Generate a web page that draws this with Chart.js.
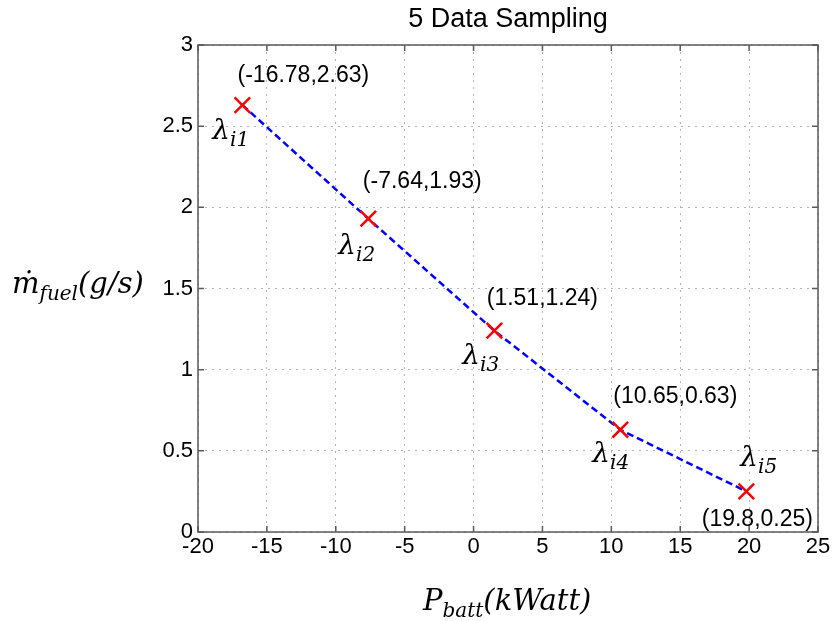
<!DOCTYPE html>
<html>
<head>
<meta charset="utf-8">
<script src="https://cdn.jsdelivr.net/npm/chart.js@4.4.1/dist/chart.umd.min.js"></script>
<style>
  html, body { margin: 0; padding: 0; background: #fff; }
  #wrap { width: 834px; height: 621px; }
</style>
</head>
<body>
<div id="wrap"><canvas id="chart" width="834" height="621"></canvas></div>
<script>
// sampled points
const pBatt = [-16.78, -7.64, 1.51, 10.65, 19.8]
const mFuel = [2.63, 1.93, 1.24, 0.63, 0.25]
const lambdaNames = ['i1', 'i2', 'i3', 'i4', 'i5']

const xTicks = [-20, -15, -10, -5, 0, 5, 10, 15, 20, 25]
const yTicks = [0, 0.5, 1, 1.5, 2, 2.5, 3]

// where the annotations sit relative to their point (px)
const coordOffsets = [[61, -29], [54, -37], [48, -32], [55, -33], [11, 28]]
const lambdaOffsets = [[-30, 34], [-30, 35], [-32, 33], [-28, 32], [-6, -25]]

const sansFont = '"Liberation Sans", Arial, sans-serif'
const mathFont = '"DejaVu Serif", serif'

// main text + subscript (+ optional tail)
function drawSub (ctx, x, y, main, sub, tail, size, subSize) {
  ctx.font = 'italic ' + size + 'px ' + mathFont
  ctx.fillText(main, x, y)
  x += ctx.measureText(main).width
  ctx.font = 'italic ' + subSize + 'px ' + mathFont
  ctx.fillText(sub, x, y + size * 0.25)
  x += ctx.measureText(sub).width
  if (tail) {
    ctx.font = 'italic ' + size + 'px ' + mathFont
    ctx.fillText(tail, x, y)
  }
}

const decorPlugin = {
  id: 'decor',
  afterDraw (chart) {
    const { ctx, chartArea: a, scales } = chart
    const xs = scales.x
    const ys = scales.y
    ctx.save()

    // box + inward ticks
    ctx.strokeStyle = '#5a5a5a'
    ctx.lineWidth = 1.5
    ctx.strokeRect(a.left, a.top, a.right - a.left, a.bottom - a.top)
    ctx.beginPath()
    xTicks.forEach(v => {
      const px = xs.getPixelForValue(v)
      ctx.moveTo(px, a.bottom); ctx.lineTo(px, a.bottom - 6)
      ctx.moveTo(px, a.top); ctx.lineTo(px, a.top + 6)
    })
    yTicks.forEach(v => {
      const py = ys.getPixelForValue(v)
      ctx.moveTo(a.left, py); ctx.lineTo(a.left + 6, py)
      ctx.moveTo(a.right, py); ctx.lineTo(a.right - 6, py)
    })
    ctx.stroke()

    ctx.fillStyle = '#000'

    // title
    ctx.font = '27px ' + sansFont
    ctx.textAlign = 'center'
    ctx.textBaseline = 'alphabetic'
    ctx.fillText('5 Data Sampling', (a.left + a.right) / 2, 27)

    // point coordinates
    ctx.font = '23px ' + sansFont
    ctx.textBaseline = 'middle'
    pBatt.forEach((x, i) => {
      const px = xs.getPixelForValue(x) + coordOffsets[i][0]
      const py = ys.getPixelForValue(mFuel[i]) + coordOffsets[i][1]
      ctx.fillText('(' + x + ',' + mFuel[i] + ')', px, py)
    })

    // lambda labels
    ctx.textAlign = 'left'
    ctx.textBaseline = 'alphabetic'
    pBatt.forEach((x, i) => {
      const px = xs.getPixelForValue(x) + lambdaOffsets[i][0]
      const py = ys.getPixelForValue(mFuel[i]) + lambdaOffsets[i][1]
      drawSub(ctx, px, py, 'λ', lambdaNames[i], '', 28, 20)
    })

    // axis labels
    drawSub(ctx, 423, 610, 'P', 'batt', '(kWatt)', 29, 20)
    drawSub(ctx, 12, 293, 'ṁ', 'fuel', '(g/s)', 29, 20)

    ctx.restore()
  }
}

new Chart(document.getElementById('chart'), {
  type: 'line',
  data: {
    datasets: [{
      data: pBatt.map((x, i) => ({ x, y: mFuel[i] })),
      borderColor: '#0000ff',
      borderWidth: 2.5,
      borderDash: [7, 4],
      fill: false,
      tension: 0,
      pointStyle: 'crossRot',
      pointRadius: 11,
      pointHoverRadius: 11,
      pointBorderColor: '#ff0000',
      pointBorderWidth: 2.5,
      clip: false
    }]
  },
  options: {
    responsive: false,
    animation: false,
    events: [],
    layout: {
      autoPadding: false,
      padding: { left: 150, right: 16, top: 45, bottom: 0 }
    },
    plugins: {
      legend: { display: false },
      title: { display: false },
      tooltip: { enabled: false }
    },
    scales: {
      x: {
        type: 'linear',
        min: -20,
        max: 25,
        afterBuildTicks: s => { s.ticks = xTicks.map(v => ({ value: v })) },
        afterFit: s => { s.height = 89 },
        grid: { color: '#b4b4b4', lineWidth: 1, drawTicks: false },
        border: { display: false, dash: [2, 5] },
        ticks: {
          padding: 2,
          color: '#000',
          maxRotation: 0,
          callback: v => String(v),
          font: { family: sansFont, size: 22 }
        }
      },
      y: {
        type: 'linear',
        min: 0,
        max: 3,
        afterBuildTicks: s => { s.ticks = yTicks.map(v => ({ value: v })) },
        afterFit: s => { s.width = 48 },
        grid: { color: '#b4b4b4', lineWidth: 1, drawTicks: false },
        border: { display: false, dash: [2, 5] },
        ticks: {
          padding: 5,
          color: '#000',
          callback: v => String(v),
          font: { family: sansFont, size: 22 }
        }
      }
    }
  },
  plugins: [decorPlugin]
})
</script>
</body>
</html>
